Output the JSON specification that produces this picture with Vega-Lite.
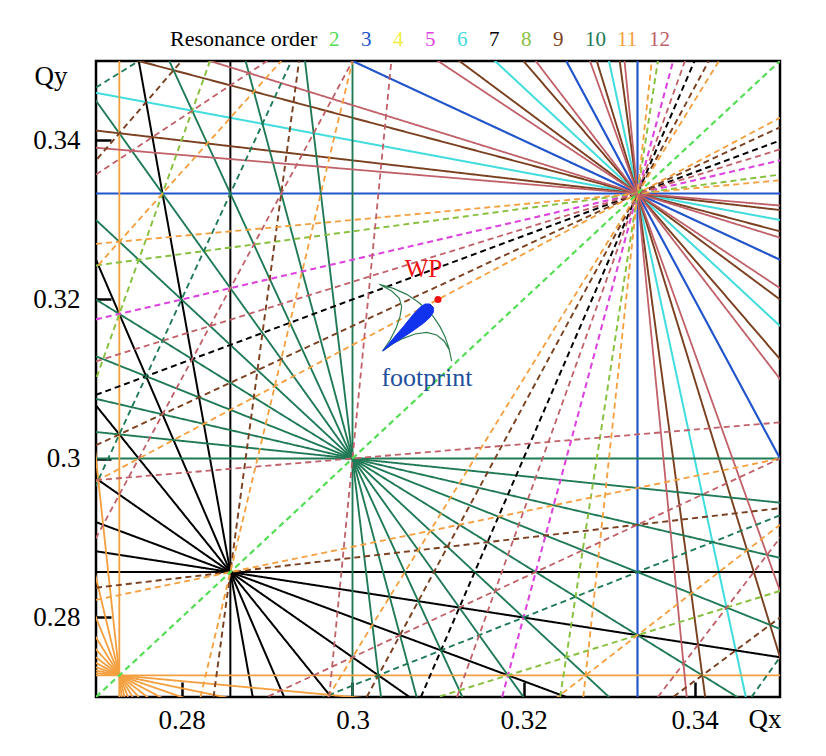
{
"$schema": "https://vega.github.io/schema/vega-lite/v6.json",
"width": 684, "height": 636,
"autosize": {"type": "none"},
"padding": {"left": 96, "top": 61, "right": 46, "bottom": 59},
"background": "white",
"config": {"view": {"stroke": "black", "strokeWidth": 2.5}, "font": "Liberation Serif", "legend": {"labelFont": "Liberation Serif", "titleFont": "Liberation Serif"}},
"layer": [
{
"data": {"values": [
{"i":1,"o":"3","k":"s","x":0.333333,"y":0.27},{"i":1,"o":"3","k":"s","x":0.333333,"y":0.35},
{"i":2,"o":"3","k":"s","x":0.27,"y":0.333333},{"i":2,"o":"3","k":"s","x":0.35,"y":0.333333},
{"i":3,"o":"3","k":"s","x":0.365,"y":0.27},{"i":3,"o":"3","k":"s","x":0.325,"y":0.35},
{"i":4,"o":"3","k":"s","x":0.27,"y":0.365},{"i":4,"o":"3","k":"s","x":0.35,"y":0.325},
{"i":5,"o":"6","k":"s","x":0.346,"y":0.27},{"i":5,"o":"6","k":"s","x":0.33,"y":0.35},
{"i":6,"o":"6","k":"s","x":0.27,"y":0.396667},{"i":6,"o":"6","k":"s","x":0.35,"y":0.316667},
{"i":7,"o":"6","k":"s","x":0.27,"y":0.346},{"i":7,"o":"6","k":"s","x":0.35,"y":0.33},
{"i":8,"o":"7","k":"s","x":0.285714,"y":0.27},{"i":8,"o":"7","k":"s","x":0.285714,"y":0.35},
{"i":9,"o":"7","k":"s","x":0.27,"y":0.285714},{"i":9,"o":"7","k":"s","x":0.35,"y":0.285714},
{"i":10,"o":"7","k":"s","x":0.288333,"y":0.27},{"i":10,"o":"7","k":"s","x":0.275,"y":0.35},
{"i":11,"o":"7","k":"s","x":0.292,"y":0.27},{"i":11,"o":"7","k":"s","x":0.26,"y":0.35},
{"i":12,"o":"7","k":"s","x":0.2975,"y":0.27},{"i":12,"o":"7","k":"s","x":0.2375,"y":0.35},
{"i":13,"o":"7","k":"s","x":0.27,"y":0.2975},{"i":13,"o":"7","k":"s","x":0.35,"y":0.2375},
{"i":14,"o":"7","k":"s","x":0.27,"y":0.292},{"i":14,"o":"7","k":"s","x":0.35,"y":0.26},
{"i":15,"o":"7","k":"s","x":0.27,"y":0.288333},{"i":15,"o":"7","k":"s","x":0.35,"y":0.275},
{"i":16,"o":"9","k":"s","x":0.34125,"y":0.27},{"i":16,"o":"9","k":"s","x":0.33125,"y":0.35},
{"i":17,"o":"9","k":"s","x":0.351429,"y":0.27},{"i":17,"o":"9","k":"s","x":0.328571,"y":0.35},
{"i":18,"o":"9","k":"s","x":0.384,"y":0.27},{"i":18,"o":"9","k":"s","x":0.32,"y":0.35},
{"i":19,"o":"9","k":"s","x":0.27,"y":0.384},{"i":19,"o":"9","k":"s","x":0.35,"y":0.32},
{"i":20,"o":"9","k":"s","x":0.27,"y":0.351429},{"i":20,"o":"9","k":"s","x":0.35,"y":0.328571},
{"i":21,"o":"9","k":"s","x":0.27,"y":0.34125},{"i":21,"o":"9","k":"s","x":0.35,"y":0.33125},
{"i":22,"o":"10","k":"s","x":0.3,"y":0.27},{"i":22,"o":"10","k":"s","x":0.3,"y":0.35},
{"i":23,"o":"10","k":"s","x":0.27,"y":0.3},{"i":23,"o":"10","k":"s","x":0.35,"y":0.3},
{"i":24,"o":"10","k":"s","x":0.303333,"y":0.27},{"i":24,"o":"10","k":"s","x":0.294444,"y":0.35},
{"i":25,"o":"10","k":"s","x":0.3075,"y":0.27},{"i":25,"o":"10","k":"s","x":0.2875,"y":0.35},
{"i":26,"o":"10","k":"s","x":0.312857,"y":0.27},{"i":26,"o":"10","k":"s","x":0.278571,"y":0.35},
{"i":27,"o":"10","k":"s","x":0.32,"y":0.27},{"i":27,"o":"10","k":"s","x":0.266667,"y":0.35},
{"i":28,"o":"10","k":"s","x":0.27,"y":0.33},{"i":28,"o":"10","k":"s","x":0.35,"y":0.25},
{"i":29,"o":"10","k":"s","x":0.27,"y":0.32},{"i":29,"o":"10","k":"s","x":0.35,"y":0.266667},
{"i":30,"o":"10","k":"s","x":0.27,"y":0.312857},{"i":30,"o":"10","k":"s","x":0.35,"y":0.278571},
{"i":31,"o":"10","k":"s","x":0.27,"y":0.3075},{"i":31,"o":"10","k":"s","x":0.35,"y":0.2875},
{"i":32,"o":"10","k":"s","x":0.27,"y":0.303333},{"i":32,"o":"10","k":"s","x":0.35,"y":0.294444},
{"i":33,"o":"11","k":"s","x":0.272727,"y":0.27},{"i":33,"o":"11","k":"s","x":0.272727,"y":0.35},
{"i":34,"o":"11","k":"s","x":0.27,"y":0.272727},{"i":34,"o":"11","k":"s","x":0.35,"y":0.272727},
{"i":35,"o":"11","k":"s","x":0.273,"y":0.27},{"i":35,"o":"11","k":"s","x":0.265,"y":0.35},
{"i":36,"o":"11","k":"s","x":0.273333,"y":0.27},{"i":36,"o":"11","k":"s","x":0.255556,"y":0.35},
{"i":37,"o":"11","k":"s","x":0.27375,"y":0.27},{"i":37,"o":"11","k":"s","x":0.24375,"y":0.35},
{"i":38,"o":"11","k":"s","x":0.274286,"y":0.27},{"i":38,"o":"11","k":"s","x":0.228571,"y":0.35},
{"i":39,"o":"11","k":"s","x":0.275,"y":0.27},{"i":39,"o":"11","k":"s","x":0.208333,"y":0.35},
{"i":40,"o":"11","k":"s","x":0.27,"y":0.275},{"i":40,"o":"11","k":"s","x":0.35,"y":0.208333},
{"i":41,"o":"11","k":"s","x":0.27,"y":0.274286},{"i":41,"o":"11","k":"s","x":0.35,"y":0.228571},
{"i":42,"o":"11","k":"s","x":0.27,"y":0.27375},{"i":42,"o":"11","k":"s","x":0.35,"y":0.24375},
{"i":43,"o":"11","k":"s","x":0.27,"y":0.273333},{"i":43,"o":"11","k":"s","x":0.35,"y":0.255556},
{"i":44,"o":"11","k":"s","x":0.27,"y":0.273},{"i":44,"o":"11","k":"s","x":0.35,"y":0.265},
{"i":45,"o":"12","k":"s","x":0.339091,"y":0.27},{"i":45,"o":"12","k":"s","x":0.331818,"y":0.35},
{"i":46,"o":"12","k":"s","x":0.354444,"y":0.27},{"i":46,"o":"12","k":"s","x":0.327778,"y":0.35},
{"i":47,"o":"12","k":"s","x":0.378571,"y":0.27},{"i":47,"o":"12","k":"s","x":0.321429,"y":0.35},
{"i":48,"o":"12","k":"s","x":0.27,"y":0.378571},{"i":48,"o":"12","k":"s","x":0.35,"y":0.321429},
{"i":49,"o":"12","k":"s","x":0.27,"y":0.354444},{"i":49,"o":"12","k":"s","x":0.35,"y":0.327778},
{"i":50,"o":"12","k":"s","x":0.27,"y":0.339091},{"i":50,"o":"12","k":"s","x":0.35,"y":0.331818},
{"i":52,"o":"5","k":"d","x":0.3175,"y":0.27},{"i":52,"o":"5","k":"d","x":0.3375,"y":0.35},
{"i":53,"o":"5","k":"d","x":0.27,"y":0.3175},{"i":53,"o":"5","k":"d","x":0.35,"y":0.3375},
{"i":54,"o":"7","k":"d","x":0.308,"y":0.27},{"i":54,"o":"7","k":"d","x":0.34,"y":0.35},
{"i":55,"o":"7","k":"d","x":0.27,"y":0.308},{"i":55,"o":"7","k":"d","x":0.35,"y":0.34},
{"i":56,"o":"8","k":"d","x":0.324286,"y":0.27},{"i":56,"o":"8","k":"d","x":0.335714,"y":0.35},
{"i":57,"o":"8","k":"d","x":0.27,"y":0.324286},{"i":57,"o":"8","k":"d","x":0.35,"y":0.335714},
{"i":58,"o":"8","k":"d","x":0.256667,"y":0.27},{"i":58,"o":"8","k":"d","x":0.283333,"y":0.35},
{"i":59,"o":"8","k":"d","x":0.27,"y":0.256667},{"i":59,"o":"8","k":"d","x":0.35,"y":0.283333},
{"i":60,"o":"9","k":"d","x":0.28375,"y":0.27},{"i":60,"o":"9","k":"d","x":0.29375,"y":0.35},
{"i":61,"o":"9","k":"d","x":0.27,"y":0.28375},{"i":61,"o":"9","k":"d","x":0.35,"y":0.29375},
{"i":62,"o":"9","k":"d","x":0.301667,"y":0.27},{"i":62,"o":"9","k":"d","x":0.341667,"y":0.35},
{"i":63,"o":"9","k":"d","x":0.27,"y":0.301667},{"i":63,"o":"9","k":"d","x":0.35,"y":0.341667},
{"i":64,"o":"9","k":"d","x":0.216,"y":0.27},{"i":64,"o":"9","k":"d","x":0.28,"y":0.35},
{"i":65,"o":"9","k":"d","x":0.27,"y":0.216},{"i":65,"o":"9","k":"d","x":0.35,"y":0.28},
{"i":66,"o":"10","k":"d","x":0.258571,"y":0.27},{"i":66,"o":"10","k":"d","x":0.292857,"y":0.35},
{"i":67,"o":"10","k":"d","x":0.27,"y":0.258571},{"i":67,"o":"10","k":"d","x":0.35,"y":0.292857},
{"i":68,"o":"10","k":"d","x":0.346667,"y":0.27},{"i":68,"o":"10","k":"d","x":0.4,"y":0.35},
{"i":69,"o":"10","k":"d","x":0.27,"y":0.346667},{"i":69,"o":"10","k":"d","x":0.35,"y":0.4},
{"i":70,"o":"11","k":"d","x":0.327,"y":0.27},{"i":70,"o":"11","k":"d","x":0.335,"y":0.35},
{"i":71,"o":"11","k":"d","x":0.27,"y":0.327},{"i":71,"o":"11","k":"d","x":0.35,"y":0.335},
{"i":72,"o":"11","k":"d","x":0.282222,"y":0.27},{"i":72,"o":"11","k":"d","x":0.3,"y":0.35},
{"i":73,"o":"11","k":"d","x":0.27,"y":0.282222},{"i":73,"o":"11","k":"d","x":0.35,"y":0.3},
{"i":74,"o":"11","k":"d","x":0.297143,"y":0.27},{"i":74,"o":"11","k":"d","x":0.342857,"y":0.35},
{"i":75,"o":"11","k":"d","x":0.27,"y":0.297143},{"i":75,"o":"11","k":"d","x":0.35,"y":0.342857},
{"i":76,"o":"11","k":"d","x":0.225,"y":0.27},{"i":76,"o":"11","k":"d","x":0.291667,"y":0.35},
{"i":77,"o":"11","k":"d","x":0.27,"y":0.225},{"i":77,"o":"11","k":"d","x":0.35,"y":0.291667},
{"i":78,"o":"12","k":"d","x":0.297273,"y":0.27},{"i":78,"o":"12","k":"d","x":0.304545,"y":0.35},
{"i":79,"o":"12","k":"d","x":0.27,"y":0.297273},{"i":79,"o":"12","k":"d","x":0.35,"y":0.304545},
{"i":80,"o":"12","k":"d","x":0.312222,"y":0.27},{"i":80,"o":"12","k":"d","x":0.338889,"y":0.35},
{"i":81,"o":"12","k":"d","x":0.27,"y":0.312222},{"i":81,"o":"12","k":"d","x":0.35,"y":0.338889},
{"i":82,"o":"12","k":"d","x":0.26,"y":0.27},{"i":82,"o":"12","k":"d","x":0.3,"y":0.35},
{"i":83,"o":"12","k":"d","x":0.27,"y":0.26},{"i":83,"o":"12","k":"d","x":0.35,"y":0.3},
{"i":84,"o":"12","k":"d","x":0.335714,"y":0.27},{"i":84,"o":"12","k":"d","x":0.392857,"y":0.35},
{"i":85,"o":"12","k":"d","x":0.27,"y":0.335714},{"i":85,"o":"12","k":"d","x":0.35,"y":0.392857},
{"i":51,"o":"2","k":"d","x":0.27,"y":0.27},{"i":51,"o":"2","k":"d","x":0.35,"y":0.35}
]},
"mark": {"type": "line", "clip": true},
"encoding": {
"x": {"field": "x", "type": "quantitative", "scale": {"domain": [0.27, 0.35], "nice": false, "zero": false},
 "axis": {"values": [0.28, 0.3, 0.32, 0.34], "format": ".2~f", "domain": false, "grid": false, "tickSize": -15, "tickWidth": 2.5, "tickColor": "black", "labelPadding": 25, "labelFontSize": 27, "labelFont": "Liberation Serif", "labelColor": "black", "title": "Qx", "titleFont": "Liberation Serif", "titleFontSize": 27, "titleFontWeight": "normal", "titleColor": "black", "titleX": 652, "titleY": 30, "titleAlign": "left", "titleBaseline": "alphabetic"}},
"y": {"field": "y", "type": "quantitative", "scale": {"domain": [0.27, 0.35], "nice": false, "zero": false},
 "axis": {"values": [0.28, 0.3, 0.32, 0.34], "format": ".2~f", "domain": false, "grid": false, "tickSize": -15, "tickWidth": 2.5, "tickColor": "black", "labelPadding": 31, "labelFontSize": 27, "labelFont": "Liberation Serif", "labelColor": "black", "title": "Qy", "titleFont": "Liberation Serif", "titleFontSize": 27, "titleFontWeight": "normal", "titleColor": "black", "titleAngle": 0, "titleX": -62, "titleY": 23, "titleAlign": "left", "titleBaseline": "alphabetic"}},
"detail": {"field": "i"},
"color": {"field": "o", "type": "nominal",
 "scale": {"domain": ["2","3","4","5","6","7","8","9","10","11","12"], "range": ["#55dd55","#2255cc","#eeee44","#dd44dd","#44dddd","#000000","#88c040","#7a4020","#1f7a55","#f4a040","#c06068"]},
 "legend": {"orient": "none", "legendX": 74, "legendY": -32, "direction": "horizontal", "columns": 11, "gridAlign": "all", "title": "Resonance order", "titleOrient": "left", "titleFont": "Liberation Serif", "titleFontSize": 22, "titleFontWeight": "normal", "titleColor": "black", "titlePadding": 10, "labelFont": "Liberation Serif", "labelFontSize": 21, "labelOffset": -20, "symbolSize": 0, "symbolStrokeWidth": 0, "symbolOpacity": 0, "columnPadding": 10,
  "encode": {"labels": {"update": {"fill": {"scale": "color", "field": "value"}}}}}},
"strokeDash": {"field": "k", "type": "nominal", "scale": {"domain": ["s","d"], "range": [[1,0],[6,4]]}, "legend": null},
"strokeWidth": {"field": "o", "type": "ordinal", "scale": {"domain": ["2","3","4","5","6","7","8","9","10","11","12"], "range": [2.2,1.8,1.2,1.3,2,1.1,1.2,1.3,1.3,1.2,1.3]}, "legend": null}
}
},
{
"data": {"values": [
{"s":1,"x":0.303138,"y":0.321908},{"s":2,"x":0.304776,"y":0.321405},{"s":3,"x":0.306336,"y":0.32065},{"s":4,"x":0.307505,"y":0.319811},{"s":5,"x":0.30848,"y":0.318973},{"s":6,"x":0.309454,"y":0.317841},{"s":7,"x":0.310234,"y":0.316583},{"s":8,"x":0.310819,"y":0.315325},{"s":9,"x":0.311287,"y":0.313858},{"s":10,"x":0.311599,"y":0.312264},{"s":11,"x":0.311326,"y":0.313648},{"s":12,"x":0.310702,"y":0.31478},{"s":13,"x":0.309844,"y":0.315535},{"s":14,"x":0.308675,"y":0.31587},{"s":15,"x":0.30731,"y":0.31566},{"s":16,"x":0.305945,"y":0.315116},{"s":17,"x":0.304776,"y":0.314487},{"s":18,"x":0.303529,"y":0.313522},{"s":19,"x":0.304386,"y":0.314906},{"s":20,"x":0.305088,"y":0.316374},{"s":21,"x":0.305556,"y":0.317841},{"s":22,"x":0.305751,"y":0.319098},{"s":23,"x":0.305477,"y":0.320147},{"s":24,"x":0.304581,"y":0.321069},{"s":25,"x":0.303138,"y":0.321908}
]},
"mark": {"type": "line", "stroke": "#2e7d4f", "strokeWidth": 1.2},
"encoding": {"x": {"field": "x", "type": "quantitative"}, "y": {"field": "y", "type": "quantitative"}, "order": {"field": "s"}}
},
{
"data": {"values": [
{"s":1,"x":0.303529,"y":0.313522},{"s":2,"x":0.304776,"y":0.315116},{"s":3,"x":0.305945,"y":0.316583},{"s":4,"x":0.307115,"y":0.318134},{"s":5,"x":0.307895,"y":0.319015},{"s":6,"x":0.30848,"y":0.319434},{"s":7,"x":0.309064,"y":0.319434},{"s":8,"x":0.309454,"y":0.319015},{"s":9,"x":0.309454,"y":0.318386},{"s":10,"x":0.309064,"y":0.317757},{"s":11,"x":0.308285,"y":0.317003},{"s":12,"x":0.30692,"y":0.315954},{"s":13,"x":0.305556,"y":0.31499},{"s":14,"x":0.304386,"y":0.314193},{"s":15,"x":0.303529,"y":0.313522}
]},
"mark": {"type": "line", "stroke": "#1133ee", "fill": "#1133ee", "strokeWidth": 1},
"encoding": {"x": {"field": "x", "type": "quantitative"}, "y": {"field": "y", "type": "quantitative"}, "order": {"field": "s"}}
},
{
"data": {"values": [{"x":0.31,"y":0.32}]},
"mark": {"type": "circle", "color": "#ee1111", "size": 50, "opacity": 1},
"encoding": {"x": {"field": "x", "type": "quantitative"}, "y": {"field": "y", "type": "quantitative"}}
},
{
"data": {"values": [{"x":0.3083,"y":0.3228,"t":"WP"}]},
"mark": {"type": "text", "color": "#ee1111", "font": "Liberation Serif", "fontSize": 25, "align": "center", "baseline": "alphabetic"},
"encoding": {"x": {"field": "x", "type": "quantitative"}, "y": {"field": "y", "type": "quantitative"}, "text": {"field": "t"}}
},
{
"data": {"values": [{"x":0.3087,"y":0.3091,"t":"footprint"}]},
"mark": {"type": "text", "color": "#1e4f9c", "font": "Liberation Serif", "fontSize": 26, "align": "center", "baseline": "alphabetic"},
"encoding": {"x": {"field": "x", "type": "quantitative"}, "y": {"field": "y", "type": "quantitative"}, "text": {"field": "t"}}
}
]
}
